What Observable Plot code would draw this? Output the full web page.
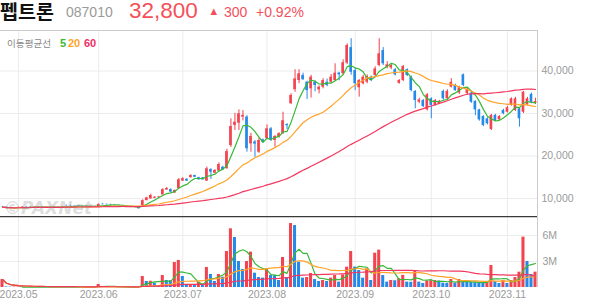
<!DOCTYPE html>
<html><head><meta charset="utf-8">
<script src="https://cdn.jsdelivr.net/npm/d3@7"></script>
<script src="https://cdn.jsdelivr.net/npm/@observablehq/plot@0.6"></script>
<style>
html,body{margin:0;padding:0;background:#fff;}
body{width:594px;height:304px;overflow:hidden;position:relative;font-family:"Liberation Sans",Arial,sans-serif;}
#price{position:absolute;left:0;top:30px;z-index:1}
#vol{position:absolute;left:0;top:216px;z-index:1}
#over{position:absolute;left:0;top:0;z-index:2;pointer-events:none}
</style></head><body>
<div id="price"></div>
<div id="vol"></div>
<svg id="over" width="594" height="304"></svg>
<script>
// ---- data (one entry per trading day, late Apr 2023 .. 10 Nov 2023) ----
const opens = [8000,7950,7800,7750,7700,7900,8000,7950,8000,8050,8000,7950,8000,7950,7900,7950,8350,8300,8300,8250,8200,8150,8100,8150,8100,8650,8600,8600,8550,8400,8300,8050,7950,8000,8000,
8350,9500,9900,10050,10200,10850,12000,12100,11300,12300,14100,14500,14900,15400,14900,14850,14100,16800,15950,16450,17350,17000,22450,27200,27700,29150,29150,22850,23300,20900,23800,24050,26400,23650,24450,25250,27400,32300,35600,37750,38950,37350,35800,37350,35550,36200,37350,37350,37750,39500,39350,41850,45500,40100,36050,37000,37350,38550,38950,41300,44800,40900,40700,40300,37100,37750,40300,38550,35200,32650,33050,30850,33450,31900,32300,35200,33450,36200,36600,34800,39100,34650,34800,32850,30850,29300,28750,26250,29550,28500,30700,30300,31900,30700,31100,30300,32100,34500,32350];
const highs = [8150,8000,7900,7850,7950,8050,8050,8050,8100,8100,8050,8050,8050,8000,8000,8100,8450,8400,8350,8300,8250,8200,8200,8200,8750,8750,8700,8650,8600,8450,8350,8150,8050,8050,8050,
9700,10300,11000,10450,10500,12300,12600,12300,12000,14700,14900,14700,15600,15500,15000,14950,17400,17000,16800,18400,17600,21600,28750,30050,30850,30700,29500,25350,23650,24300,24000,27300,26700,24800,25500,30300,27600,34650,40300,40300,39500,37600,39000,37700,36500,38200,38100,39200,41700,39700,42650,46400,47600,40600,38000,39000,39100,38800,41000,47600,45500,42200,41600,40600,38000,41300,40500,38800,35400,33600,33300,34700,33700,33300,33100,35500,35600,38200,36900,36400,39300,35900,35000,33000,31000,29500,29000,29800,29800,29500,31000,31700,33700,33800,31300,35200,33800,34800,33600];
const lows = [7900,7750,7700,7650,7650,7850,7900,7900,7950,7950,7900,7900,7900,7850,7850,7900,8250,8200,8200,8150,8100,8050,8050,8050,8050,8500,8500,8450,8400,8250,8150,7900,7850,7850,7500,
8300,9450,9850,9950,10100,10800,11900,11400,11200,12200,14000,14000,14800,14900,14300,14300,14000,14500,15900,16400,16600,16900,22000,26000,26000,28250,20900,20900,19700,20600,23100,23900,23400,22050,24200,25100,26200,32100,35000,37000,37800,33300,33650,35100,34600,35800,36300,37100,37500,37700,39000,41500,39000,35400,33850,36700,37000,37500,38700,41000,41300,40500,40300,38800,36900,37500,38700,35100,31100,32300,31400,30600,28750,31700,32100,33200,33300,36000,35200,34500,36300,34400,32400,29500,28200,26900,27300,26000,28100,28300,29700,30100,31700,30500,26800,30000,31800,32300,32100];
const closes = [7950,7800,7750,7700,7900,8000,7950,8000,8050,8000,7950,8000,7950,7900,7950,8050,8300,8250,8250,8200,8150,8100,8150,8100,8600,8550,8550,8500,8450,8300,8200,8000,8000,7900,7600,
9500,10150,10700,10300,10350,12100,12350,11500,11900,14400,14650,14100,15400,15000,14400,14400,17000,16200,16600,18000,16750,21050,26950,27950,29950,29550,21700,24600,22800,23650,23250,26400,23650,24600,25250,28300,27150,34250,38150,39350,37950,35400,38550,36600,36200,37750,36600,38550,39500,39100,41950,46000,39700,37000,37750,38550,38700,37750,40500,44050,41700,41450,41300,39100,37750,41050,38950,35400,33050,33200,31650,34400,31900,33050,32850,33450,35200,37350,35400,36050,36600,35650,32650,30850,28500,27200,27600,29550,28350,29300,29950,31350,33450,33450,28750,35000,33450,32500,32800];
// volume in millions of shares
const volumes = [0.92,0.06,0.04,0.05,0.06,0.05,0.04,0.04,0.05,0.03,0.03,0.04,0.03,0.03,0.04,0.05,0.07,0.05,0.04,0.04,0.03,0.03,0.04,0.03,0.35,0.12,0.08,0.06,0.05,0.05,0.04,0.05,0.04,0.05,0.08,
1.27,0.69,0.72,0.50,0.23,1.38,0.81,0.78,2.88,3.12,1.27,0.31,0.32,0.30,0.62,0.23,2.31,1.50,0.69,1.50,1.19,4.15,6.77,5.77,3.00,2.08,3.00,4.08,1.65,1.15,1.08,2.15,1.38,1.36,0.81,3.46,1.15,7.38,7.15,2.92,1.08,1.15,1.62,0.92,0.69,0.81,0.69,1.08,1.38,0.62,1.46,2.35,4.15,2.35,1.96,1.08,2.15,0.81,3.96,4.31,1.38,0.62,0.81,0.78,1.00,1.40,0.62,0.60,1.88,0.62,0.46,0.77,0.78,0.80,0.75,0.50,0.48,0.92,0.50,0.92,0.62,0.60,0.58,0.56,0.55,0.54,0.69,2.54,0.69,0.46,0.81,0.46,0.81,1.15,1.77,5.81,3.00,1.50,1.77];
const monthStarts = [4,24,45,66,88,107,126];
const monthLabels = ["2023.05","2023.06","2023.07","2023.08","2023.09","2023.10","2023.11"];
const priceTicks = [10000,20000,30000,40000];
const volTicks = [3,6];
const volTickLabels = ["3M","6M"];
const maPeriods = [5,20,60];

const RED = "#f2434f", BLUE = "#2589e8";
const MA_COLORS = ["#36b936","#ffa42a","#f2385f"];
const GRID = "#ececec";

const days = closes.map((c,i)=>({i, open:opens[i], high:highs[i], low:lows[i], close:c, vol:volumes[i],
  up: c >= opens[i], volUp: i===0 || volumes[i] >= volumes[i-1]}));

const xScale = {type:"linear", domain:[-0.5, closes.length-0.5]};
const W = 594, MR = 57;

// ---- price panel ----
const priceMarks = [
  Plot.gridY(priceTicks,{stroke:GRID, strokeOpacity:1}),
  Plot.gridX(monthStarts,{stroke:GRID, strokeOpacity:1}),
  Plot.ruleX(days,{filter:d=>d.up, x:"i", y1:"low", y2:"high", stroke:RED, strokeWidth:1}),
  Plot.ruleX(days,{filter:d=>!d.up, x:"i", y1:"low", y2:"high", stroke:BLUE, strokeWidth:1}),
  Plot.rect(days,{filter:d=>d.up, x1:d=>d.i-0.33, x2:d=>d.i+0.33, y1:"open", y2:"close", fill:RED}),
  Plot.rect(days,{filter:d=>!d.up, x1:d=>d.i-0.33, x2:d=>d.i+0.33, y1:"open", y2:"close", fill:BLUE}),
  ...maPeriods.map((k,j)=>Plot.lineY(days, Plot.windowY({k, anchor:"end", reduce:"mean"}, {x:"i", y:"close", stroke:MA_COLORS[j], strokeWidth:1.2}))),
  Plot.axisY(priceTicks,{anchor:"right", label:null, tickSize:0, tickPadding:4, tickFormat:d3.format(","), fill:"#9a9a9a", fontSize:10.5})
];
const pricePlot = Plot.plot({
  width:W, height:188, marginLeft:0, marginRight:MR, marginTop:0, marginBottom:2,
  x:{...xScale, axis:null},
  y:{domain:[5765,49530], label:null},
  style:{background:"transparent", fontFamily:"'Liberation Sans',Arial,sans-serif", overflow:"visible"},
  marks:priceMarks
});
document.getElementById("price").appendChild(pricePlot);

// ---- volume panel ----
const volMarks = [
  Plot.gridY(volTicks,{stroke:GRID, strokeOpacity:1}),
  Plot.gridX(monthStarts,{stroke:GRID, strokeOpacity:1}),
  Plot.rectY(days,{filter:d=>d.volUp, x1:d=>d.i-0.38, x2:d=>d.i+0.38, y:"vol", fill:RED}),
  Plot.rectY(days,{filter:d=>!d.volUp, x1:d=>d.i-0.38, x2:d=>d.i+0.38, y:"vol", fill:BLUE}),
  ...maPeriods.map((k,j)=>Plot.lineY(days, Plot.windowY({k, anchor:"end", reduce:"mean"}, {x:"i", y:"vol", stroke:MA_COLORS[j], strokeWidth:1.2}))),
  Plot.axisY(volTicks,{anchor:"right", label:null, tickSize:0, tickPadding:5, tickFormat:d=>volTickLabels[volTicks.indexOf(d)], fill:"#9a9a9a", fontSize:10.5}),
  Plot.axisX(monthStarts,{anchor:"bottom", label:null, tickSize:0, tickPadding:3, tickFormat:d=>monthLabels[monthStarts.indexOf(d)], fill:"#9a9a9a", fontSize:10.5})
];
const volPlot = Plot.plot({
  width:W, height:88, marginLeft:0, marginRight:MR, marginTop:1, marginBottom:17,
  x:{...xScale, label:null},
  y:{domain:[0, 70/26*3], label:null},
  style:{background:"transparent", fontFamily:"'Liberation Sans',Arial,sans-serif", overflow:"visible"},
  marks:volMarks
});
document.getElementById("vol").appendChild(volPlot);

// ---- header, legend, frame ----
const ov = d3.select("#over");
ov.append("line").attr("x1",0).attr("x2",537).attr("y1",30.5).attr("y2",30.5).attr("stroke","#cccccc");
ov.append("line").attr("x1",537.5).attr("x2",537.5).attr("y1",30).attr("y2",287).attr("stroke","#cccccc");
ov.append("line").attr("x1",0).attr("x2",537).attr("y1",216.7).attr("y2",216.7).attr("stroke","#3a3a3a").attr("stroke-width",1.3);

ov.append("text").attr("x",4).attr("y",214).text("©PAXNet")
  .attr("font-family","'DejaVu Sans',sans-serif").attr("font-weight","bold").attr("font-style","italic")
  .attr("font-size",17).attr("fill","#888").attr("fill-opacity",0.28);

const head = [
  {t:"펩트론", x:0, y:18.5, size:19.5, fill:"#111", weight:"bold", font:"'Noto Sans CJK KR',sans-serif"},
  {t:"087010", x:66, y:17, size:14, fill:"#9a9a9a", weight:"normal", font:"'Liberation Sans',Arial,sans-serif"},
  {t:"32,800", x:129, y:17.5, size:22.5, fill:"#f4505a", weight:"normal", font:"'Liberation Sans',Arial,sans-serif"},
  {t:"▲", x:210.5, y:14, size:8.5, fill:"#f4505a", weight:"normal", font:"'DejaVu Sans',sans-serif"},
  {t:"300", x:224, y:17, size:14, fill:"#f4505a", weight:"normal", font:"'Liberation Sans',Arial,sans-serif"},
  {t:"+0.92%", x:256, y:17, size:14, fill:"#f4505a", weight:"normal", font:"'Liberation Sans',Arial,sans-serif"},
  {t:"이동평균선", x:7, y:47, size:9.6, fill:"#8a8a8a", weight:"normal", font:"'Noto Sans CJK KR',sans-serif"},
  {t:"5", x:60, y:47, size:11, fill:MA_COLORS[0], weight:"bold", font:"'Liberation Sans',Arial,sans-serif"},
  {t:"20", x:68, y:47, size:11, fill:MA_COLORS[1], weight:"bold", font:"'Liberation Sans',Arial,sans-serif"},
  {t:"60", x:84, y:47, size:11, fill:"#f22c66", weight:"bold", font:"'Liberation Sans',Arial,sans-serif"}
];
head.forEach(h=>ov.append("text").attr("x",h.x).attr("y",h.y).text(h.t)
  .attr("font-size",h.size).attr("fill",h.fill).attr("font-weight",h.weight).attr("font-family",h.font));
</script>
</body></html>
